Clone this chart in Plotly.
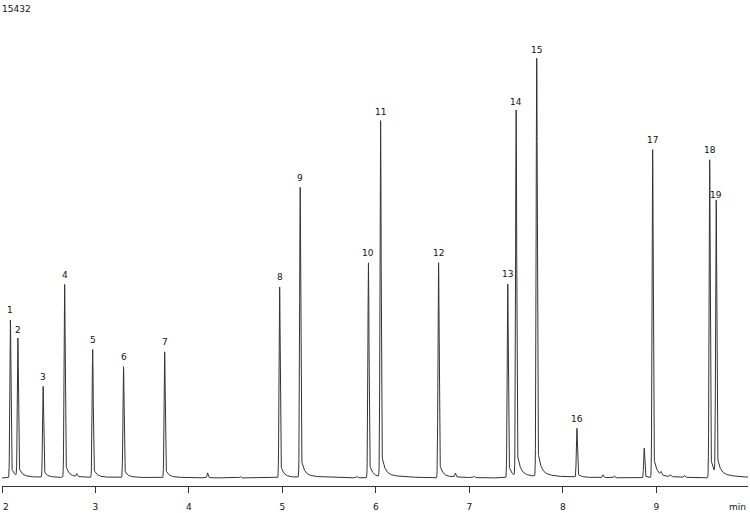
import numpy as np
import plotly.graph_objects as go

peak_labels = [str(i) for i in range(1, 20)]
peak_times = [2.09, 2.17, 2.44, 2.67, 2.97, 3.30, 3.74, 4.97, 5.19, 5.92, 6.05, 6.67, 7.41, 7.50, 7.72, 8.15, 8.96, 9.57, 9.64]
peak_heights = [158, 138, 91, 193, 128, 111, 126, 191, 290, 215, 356, 215, 194, 366, 418, 49, 328, 318, 273]
minor_times = [2.80, 4.20, 4.55, 5.80, 6.85, 7.05, 8.43, 8.55, 8.87, 9.05, 9.15, 9.30]
minor_heights = [3, 5, 1.5, 1.5, 4, 1.5, 3, 2, 30, 3, 2, 2]
tick_vals = [2, 3, 4, 5, 6, 7, 8, 9]
tick_text = ["", "3", "4", "5", "6", "7", "8", "9"]

t = np.arange(2.0, 10.0, 0.002)
y = np.zeros_like(t)
for t0, h in list(zip(peak_times, peak_heights)) + list(zip(minor_times, minor_heights)):
    d = t - t0
    g = np.exp(-0.5 * (d / 0.006) ** 2)
    tail = np.where(d > 0, 0.08 * np.exp(-d / 0.03) + 0.01 * np.exp(-d / 0.2), 0)
    y += h * np.maximum(g, tail)

font = dict(size=9, color="#111", family="DejaVu Sans")
fig = go.Figure(go.Scatter(x=t, y=y, mode="lines", line=dict(color="#333", width=1), hoverinfo="skip"))
for lab, t0, h in zip(peak_labels, peak_times, peak_heights):
    fig.add_annotation(x=t0, y=h, text=lab, showarrow=False, yshift=10, font=font)
fig.add_annotation(x=0, y=1, xref="paper", yref="paper", xanchor="left", yanchor="bottom",
                   text="15432", showarrow=False, yshift=-1, xshift=-2, font=font)
fig.add_annotation(x=1, y=0, xref="paper", yref="paper", xanchor="right", yanchor="top",
                   text="min", showarrow=False, yshift=-14, font=font)
fig.add_annotation(x=0, y=0, xref="paper", yref="paper", xanchor="left", yanchor="top",
                   text="2", showarrow=False, yshift=-14, xshift=-1, font=font)
fig.update_layout(
    width=750, height=513, margin=dict(l=2, r=2, t=15, b=27),
    plot_bgcolor="white", paper_bgcolor="white", showlegend=False,
    xaxis=dict(range=[2, 9.98], tickvals=tick_vals, ticktext=tick_text, ticks="outside", ticklen=6,
               ticklabelstandoff=6,
               tickcolor="#333", showline=True, linecolor="#333", showgrid=False, zeroline=False,
               automargin=False, tickfont=font),
    yaxis=dict(range=[-8, 463], visible=False, automargin=False),
)
fig.write_html("out.html", post_script="document.body.style.margin='0';",
               config={"displayModeBar": False})
